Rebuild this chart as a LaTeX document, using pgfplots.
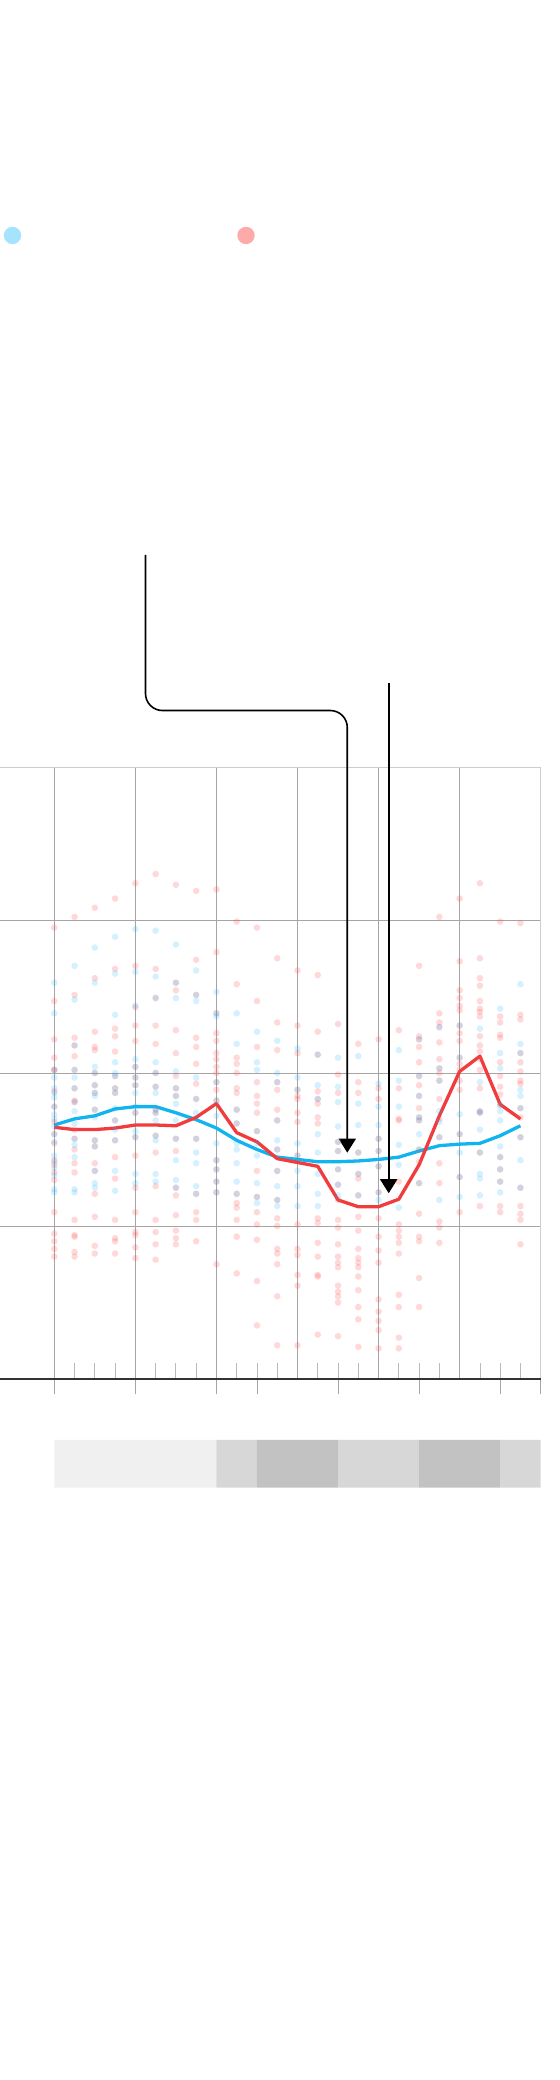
\documentclass[border=0pt]{standalone}
\usepackage{pgfplots}
\pgfplotsset{compat=1.18}
\usetikzlibrary{arrows.meta}

\definecolor{lineBlue}{RGB}{18,180,240}
\definecolor{lineRed}{RGB}{240,60,60}
\definecolor{dotBlue}{RGB}{20,176,255}
\definecolor{dotRed}{RGB}{255,80,80}
\definecolor{keyBlue}{RGB}{166,227,255}
\definecolor{keyRed}{RGB}{255,170,170}
\definecolor{gridGray}{RGB}{165,165,165}
\definecolor{edgeGray}{RGB}{205,205,205}
\definecolor{bandA}{RGB}{240,240,240}
\definecolor{bandB}{RGB}{215,215,215}
\definecolor{bandC}{RGB}{194,194,194}

\begin{document}
\begin{tikzpicture}
\path[use as bounding box] (0,0) rectangle (560bp,2080bp);
\begin{axis}[
    at={(0bp,701bp)}, anchor=south west,
    scale only axis,
    width=540.7bp, height=612bp,
    xmin=-2.679, xmax=24,
    ymin=0, ymax=4,
    axis line style={draw=none},
    xtick={0,4,...,20}, ytick={1,2,3},
    xticklabels={}, yticklabels={},
    major tick length=0pt,
    grid=major,
    grid style={draw=gridGray, line width=0.9bp},
    clip=false
]
% frame edges and baseline
\draw[edgeGray, line width=0.9bp] (axis cs:-2.679,4) -- (axis cs:24,4);
\draw[edgeGray, line width=0.9bp] (axis cs:24,0) -- (axis cs:24,4);
\pgfplotsinvokeforeach{1,2,3,5,6,7,9,10,11,13,14,15,17,18,19,21,22,23}{
  \draw[edgeGray!90!black, line width=0.8bp] (axis cs:#1,0) -- (axis cs:#1,0.1046);
}
\pgfplotsinvokeforeach{0,4,8,10,14,18,22,24}{
  \draw[gridGray, line width=0.9bp] (axis cs:#1,0) -- (axis cs:#1,-0.098);
}

% red scatter
\addplot[only marks, mark=*, mark size=3.3bp, mark options={draw opacity=0, fill=dotRed, fill opacity=0.22}] coordinates {
(0,2.95)(0,2.47)(0,2.22)(0,2.10)(0,2.02)(0,2.02)(0,1.88)(0,1.78)(0,1.68)(0,1.60)(0,1.54)(0,1.43)(0,1.40)(0,1.35)(0,1.30)(0,1.09)(0,0.95)(0,0.90)(0,0.85)(0,0.80)
(1,3.02)(1,2.51)(1,2.23)(1,2.18)(1,2.11)(1,2.02)(1,1.90)(1,1.82)(1,1.81)(1,1.63)(1,1.57)(1,1.50)(1,1.41)(1,1.35)(1,1.04)(1,0.94)(1,0.93)(1,0.83)(1,0.80)
(2,3.08)(2,2.62)(2,2.27)(2,2.17)(2,2.15)(2,2.00)(2,1.92)(2,1.87)(2,1.76)(2,1.56)(2,1.52)(2,1.41)(2,1.36)(2,1.21)(2,1.06)(2,0.87)(2,0.82)
(3,3.14)(3,2.68)(3,2.29)(3,2.24)(3,2.14)(3,1.98)(3,1.90)(3,1.87)(3,1.69)(3,1.56)(3,1.45)(3,1.31)(3,1.04)(3,0.92)(3,0.90)(3,0.82)
(4,3.24)(4,2.70)(4,2.43)(4,2.31)(4,2.21)(4,2.04)(4,1.97)(4,1.92)(4,1.74)(4,1.58)(4,1.46)(4,1.25)(4,1.09)(4,0.96)(4,0.94)(4,0.86)(4,0.79)
(5,3.30)(5,2.68)(5,2.49)(5,2.31)(5,2.19)(5,2.00)(5,1.91)(5,1.76)(5,1.74)(5,1.59)(5,1.48)(5,1.26)(5,1.04)(5,0.96)(5,0.88)(5,0.78)
(6,3.23)(6,2.59)(6,2.54)(6,2.28)(6,2.13)(6,1.98)(6,1.90)(6,1.85)(6,1.57)(6,1.49)(6,1.25)(6,1.20)(6,1.07)(6,0.97)(6,0.92)(6,0.88)
(7,3.19)(7,2.74)(7,2.51)(7,2.23)(7,2.17)(7,2.06)(7,1.93)(7,1.83)(7,1.57)(7,1.21)(7,1.09)(7,1.04)(7,0.90)
(8,3.20)(8,2.79)(8,2.39)(8,2.26)(8,2.21)(8,2.13)(8,2.09)(8,2.04)(8,2.00)(8,1.94)(8,1.89)(8,1.82)(8,1.43)(8,1.37)(8,1.29)(8,1.22)(8,0.75)
(9,2.99)(9,2.58)(9,2.10)(9,2.06)(9,2.00)(9,1.90)(9,1.87)(9,1.76)(9,1.67)(9,1.21)(9,1.15)(9,1.12)(9,1.04)(9,0.93)(9,0.69)
(10,2.95)(10,2.47)(10,2.17)(10,1.94)(10,1.85)(10,1.80)(10,1.74)(10,1.62)(10,1.36)(10,1.19)(10,1.09)(10,1.01)(10,0.91)(10,0.64)(10,0.35)
(11,2.75)(11,2.33)(11,2.15)(11,1.94)(11,1.89)(11,1.76)(11,1.69)(11,1.50)(11,1.36)(11,1.17)(11,1.05)(11,1.00)(11,0.85)(11,0.82)(11,0.75)(11,0.54)(11,0.22)
(12,2.67)(12,2.31)(12,2.13)(12,1.89)(12,1.85)(12,1.83)(12,1.74)(12,1.68)(12,1.46)(12,1.01)(12,0.85)(12,0.81)(12,0.68)(12,0.61)(12,0.22)
(13,2.64)(13,2.27)(13,2.12)(13,1.88)(13,1.83)(13,1.80)(13,1.71)(13,1.67)(13,1.05)(13,1.02)(13,0.89)(13,0.80)(13,0.68)(13,0.67)(13,0.29)
(14,2.32)(14,1.99)(14,1.87)(14,1.55)(14,1.49)(14,1.37)(14,1.27)(14,1.17)(14,1.04)(14,0.99)(14,0.88)(14,0.80)(14,0.76)(14,0.73)(14,0.61)(14,0.57)(14,0.54)(14,0.50)(14,0.28)
(15,2.19)(15,1.94)(15,1.87)(15,1.48)(15,1.34)(15,1.31)(15,1.20)(15,1.06)(15,0.97)(15,0.85)(15,0.79)(15,0.76)(15,0.73)(15,0.67)(15,0.58)(15,0.47)(15,0.39)(15,0.21)
(16,2.22)(16,1.90)(16,1.83)(16,1.57)(16,1.49)(16,1.39)(16,1.22)(16,1.05)(16,0.93)(16,0.84)(16,0.76)(16,0.52)(16,0.44)(16,0.38)(16,0.32)(16,0.20)
(17,2.28)(17,1.90)(17,1.70)(17,1.69)(17,1.29)(17,1.01)(17,0.97)(17,0.93)(17,0.89)(17,0.82)(17,0.55)(17,0.47)(17,0.27)(17,0.20)
(18,2.70)(18,2.24)(18,2.22)(18,2.17)(18,2.07)(18,1.98)(18,1.92)(18,1.85)(18,1.77)(18,1.71)(18,1.69)(18,1.50)(18,1.42)(18,1.28)(18,1.08)(18,0.93)(18,0.90)(18,0.66)(18,0.47)
(19,3.02)(19,2.39)(19,2.33)(19,2.30)(19,2.20)(19,2.09)(19,2.03)(19,2.00)(19,1.95)(19,1.83)(19,1.70)(19,1.58)(19,1.41)(19,1.28)(19,1.03)(19,0.99)(19,0.89)
(20,3.14)(20,2.73)(20,2.54)(20,2.49)(20,2.44)(20,2.41)(20,2.31)(20,2.26)(20,2.21)(20,2.10)(20,2.06)(20,2.02)(20,1.95)(20,1.89)(20,1.60)(20,1.32)(20,1.09)
(21,3.24)(21,2.75)(21,2.62)(21,2.57)(21,2.47)(21,2.42)(21,2.40)(21,2.37)(21,2.24)(21,2.18)(21,2.14)(21,2.09)(21,2.02)(21,1.90)(21,1.75)(21,1.74)(21,1.48)(21,1.13)
(22,2.99)(22,2.37)(22,2.33)(22,2.25)(22,2.23)(22,2.07)(22,1.98)(22,1.91)(22,1.86)(22,1.79)(22,1.45)(22,1.37)(22,1.29)(22,1.13)(22,1.09)
(23,2.98)(23,2.38)(23,2.35)(23,2.13)(23,2.07)(23,2.01)(23,1.95)(23,1.93)(23,1.77)(23,1.71)(23,1.58)(23,1.25)(23,1.13)(23,1.08)(23,1.04)(23,0.88)
};

% blue scatter
\addplot[only marks, mark=*, mark size=3.3bp, mark options={draw opacity=0, fill=dotBlue, fill opacity=0.18}] coordinates {
(0,2.59)(0,2.39)(0,2.02)(0,1.97)(0,1.90)(0,1.87)(0,1.84)(0,1.78)(0,1.73)(0,1.70)(0,1.65)(0,1.60)(0,1.55)(0,1.46)(0,1.42)(0,1.38)(0,1.33)(0,1.24)(0,1.22)
(1,2.70)(1,2.48)(1,2.18)(1,2.02)(1,1.97)(1,1.90)(1,1.81)(1,1.75)(1,1.67)(1,1.57)(1,1.53)(1,1.45)(1,1.24)(1,1.22)
(2,2.82)(2,2.59)(2,2.04)(2,2.00)(2,1.92)(2,1.87)(2,1.85)(2,1.76)(2,1.71)(2,1.56)(2,1.52)(2,1.36)(2,1.28)(2,1.25)
(3,2.89)(3,2.65)(3,2.38)(3,2.07)(3,2.00)(3,1.98)(3,1.90)(3,1.87)(3,1.77)(3,1.69)(3,1.63)(3,1.56)(3,1.36)(3,1.23)
(4,2.94)(4,2.66)(4,2.44)(4,2.09)(4,2.04)(4,1.97)(4,1.92)(4,1.87)(4,1.78)(4,1.74)(4,1.62)(4,1.58)(4,1.34)(4,1.28)
(5,2.93)(5,2.63)(5,2.49)(5,2.07)(5,2.00)(5,1.91)(5,1.87)(5,1.76)(5,1.74)(5,1.69)(5,1.59)(5,1.56)(5,1.34)(5,1.29)
(6,2.84)(6,2.59)(6,2.49)(6,2.01)(6,1.90)(6,1.85)(6,1.80)(6,1.69)(6,1.57)(6,1.43)(6,1.30)(6,1.25)
(7,2.67)(7,2.51)(7,2.47)(7,1.97)(7,1.83)(7,1.74)(7,1.57)(7,1.48)(7,1.41)(7,1.26)(7,1.21)
(8,2.53)(8,2.39)(8,2.37)(8,1.94)(8,1.82)(8,1.72)(8,1.54)(8,1.43)(8,1.37)(8,1.29)(8,1.22)
(9,2.39)(9,2.19)(9,1.76)(9,1.67)(9,1.54)(9,1.50)(9,1.41)(9,1.29)(9,1.21)
(10,2.27)(10,2.07)(10,2.02)(10,1.62)(10,1.54)(10,1.46)(10,1.28)(10,1.19)(10,1.15)
(11,2.21)(11,2.00)(11,1.94)(11,1.69)(11,1.56)(11,1.50)(11,1.36)(11,1.26)(11,1.17)(11,1.13)
(12,2.16)(12,1.97)(12,1.89)(12,1.54)(12,1.46)(12,1.36)(12,1.26)(12,1.13)
(13,2.12)(13,1.92)(13,1.83)(13,1.60)(13,1.48)(13,1.34)(13,1.21)(13,1.13)
(14,2.10)(14,1.91)(14,1.81)(14,1.65)(14,1.55)(14,1.49)(14,1.37)(14,1.27)(14,1.20)
(15,2.11)(15,1.80)(15,1.66)(15,1.48)(15,1.34)(15,1.20)
(16,1.93)(16,1.78)(16,1.66)(16,1.57)(16,1.49)(16,1.39)(16,1.22)(16,1.17)
(17,2.15)(17,1.95)(17,1.78)(17,1.53)(17,1.40)(17,1.12)
(18,2.22)(18,1.98)(18,1.85)(18,1.71)(18,1.69)(18,1.60)(18,1.50)(18,1.28)
(19,2.30)(19,2.03)(19,1.95)(19,1.75)(19,1.68)(19,1.58)(19,1.17)
(20,2.31)(20,2.10)(20,1.73)(20,1.60)(20,1.48)(20,1.32)(20,1.19)
(21,2.29)(21,1.94)(21,1.75)(21,1.74)(21,1.63)(21,1.48)(21,1.34)(21,1.31)(21,1.20)
(22,2.42)(22,2.13)(22,2.03)(22,1.79)(22,1.75)(22,1.69)(22,1.52)(22,1.45)(22,1.37)(22,1.29)(22,1.22)
(23,2.58)(23,2.19)(23,2.13)(23,1.89)(23,1.85)(23,1.77)(23,1.58)(23,1.43)(23,1.25)
};

% average lines
\addplot[lineBlue, line width=3.3bp, line join=round, mark=none] coordinates {
(0,1.66)(1,1.70)(2,1.72)(3,1.765)(4,1.78)(5,1.78)(6,1.74)(7,1.695)(8,1.64)(9,1.56)(10,1.50)(11,1.45)
(12,1.435)(13,1.42)(14,1.42)(15,1.425)(16,1.435)(17,1.45)(18,1.49)(19,1.525)(20,1.535)(21,1.54)(22,1.59)(23,1.655)
};
\addplot[lineRed, line width=3.3bp, line join=round, mark=none] coordinates {
(0,1.645)(1,1.63)(2,1.63)(3,1.64)(4,1.66)(5,1.66)(6,1.655)(7,1.71)(8,1.80)(9,1.61)(10,1.55)(11,1.44)
(12,1.415)(13,1.39)(14,1.17)(15,1.126)(16,1.126)(17,1.175)(18,1.40)(19,1.72)(20,2.01)(21,2.11)(22,1.795)(23,1.70)
};

% baseline
\draw[black!80, line width=1.8bp] (axis cs:-2.679,0) -- (axis cs:24,0);

% period bands below the axis
\addplot[fill=bandA, draw=none] coordinates {(0,-0.3987)(8,-0.3987)(8,-0.7105)(0,-0.7105)(0,-0.3987)};
\addplot[fill=bandB, draw=none] coordinates {(8,-0.3987)(10,-0.3987)(10,-0.7105)(8,-0.7105)(8,-0.3987)};
\addplot[fill=bandC, draw=none] coordinates {(10,-0.3987)(14,-0.3987)(14,-0.7105)(10,-0.7105)(10,-0.3987)};
\addplot[fill=bandB, draw=none] coordinates {(14,-0.3987)(18,-0.3987)(18,-0.7105)(14,-0.7105)(14,-0.3987)};
\addplot[fill=bandC, draw=none] coordinates {(18,-0.3987)(22,-0.3987)(22,-0.7105)(18,-0.7105)(18,-0.3987)};
\addplot[fill=bandB, draw=none] coordinates {(22,-0.3987)(24,-0.3987)(24,-0.7105)(22,-0.7105)(22,-0.3987)};

% legend keys
\addplot[only marks, mark=*, mark size=8.7bp, mark options={draw opacity=0, fill=keyBlue}] coordinates {(-2.062,7.474)};
\addplot[only marks, mark=*, mark size=8.7bp, mark options={draw opacity=0, fill=keyRed}] coordinates {(9.459,7.474)};

% annotation arrows
\draw[black, line width=1.6bp, rounded corners=17bp, -{Triangle[width=17bp,length=14bp]}]
  (axis cs:4.5,5.386) -- (axis cs:4.5,4.369) -- (axis cs:14.457,4.369) -- (axis cs:14.457,1.479);
\draw[black, line width=2bp, -{Triangle[width=17bp,length=14bp]}]
  (axis cs:16.5,4.552) -- (axis cs:16.5,1.214);
\end{axis}
\end{tikzpicture}
\end{document}
